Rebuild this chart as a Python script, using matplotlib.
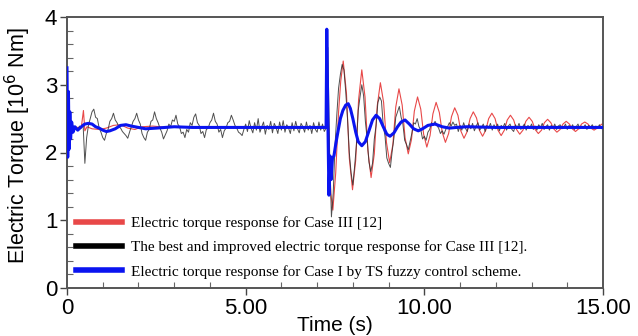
import numpy as np
import matplotlib
matplotlib.use("Agg")
import matplotlib.pyplot as plt
from matplotlib.lines import Line2D

# ---------------- data ----------------
red_t = [0.00, 0.40, 0.46, 0.50, 0.56, 0.70, 0.90, 1.10, 1.30, 1.50, 1.70, 1.90, 2.10, 2.40, 2.80, 3.50, 7.26,
         7.28, 7.32, 7.38, 7.44, 7.52, 7.60, 7.66,
         7.73, 7.82, 7.90, 7.99, 8.08, 8.16, 8.25, 8.34, 8.42, 8.51, 8.60, 8.68,
         8.77, 8.86, 8.94, 9.03, 9.12, 9.20, 9.29, 9.38, 9.46, 9.55, 9.64, 9.72,
         9.81, 9.90, 9.98, 10.07, 10.16, 10.24, 10.33, 10.42, 10.50, 10.59, 10.68, 10.76,
         10.85, 10.94, 11.02, 11.11, 11.20, 11.28, 11.37, 11.46, 11.54, 11.63, 11.72, 11.80,
         11.89, 11.98, 12.06, 12.15, 12.24, 12.32, 12.41, 12.50, 12.58, 12.67, 12.76, 12.84,
         12.93, 13.02, 13.10, 13.19, 13.28, 13.36, 13.45, 13.54, 13.62, 13.71, 13.80, 13.88,
         13.97, 14.06, 14.14, 14.23, 14.32, 14.40, 14.49, 14.58, 14.66, 14.75, 14.84, 14.92, 15.00]
red_v = [2.37, 2.37, 2.62, 2.32, 2.38, 2.35, 2.34, 2.36, 2.40, 2.41, 2.36, 2.34, 2.38, 2.39, 2.37, 2.38, 2.37,
         3.62, 2.40, 1.40, 1.15, 1.70, 2.60, 3.05,
         3.35, 2.88, 1.92, 1.45, 1.89, 2.78, 3.22, 2.82, 2.03, 1.63, 1.98, 2.68,
         3.03, 2.74, 2.15, 1.85, 2.12, 2.67, 2.94, 2.70, 2.22, 1.98, 2.19, 2.61,
         2.82, 2.64, 2.27, 2.08, 2.25, 2.57, 2.74, 2.59, 2.30, 2.15, 2.28, 2.53,
         2.66, 2.55, 2.32, 2.21, 2.31, 2.50, 2.60, 2.51, 2.33, 2.24, 2.33, 2.50,
         2.58, 2.50, 2.33, 2.25, 2.33, 2.48, 2.55, 2.48, 2.34, 2.27, 2.33, 2.46,
         2.52, 2.46, 2.34, 2.28, 2.33, 2.44, 2.49, 2.44, 2.35, 2.30, 2.34, 2.42,
         2.46, 2.42, 2.35, 2.31, 2.35, 2.42, 2.45, 2.42, 2.36, 2.33, 2.36, 2.40, 2.43]

# black: sampled every 0.05 s from 0 to 15 s (one row = 1 s)
black_v = [
    2.37, 2.40, 2.34, 2.39, 2.35, 2.38, 2.34, 2.39, 2.36, 2.42, 1.84, 2.22, 2.40, 2.50, 2.60, 2.64, 2.52, 2.50, 2.36, 2.30,
    2.22, 2.18, 2.28, 2.34, 2.46, 2.50, 2.58, 2.48, 2.44, 2.38, 2.36, 2.31, 2.28, 2.25, 2.21, 2.30, 2.38, 2.46, 2.50, 2.58,
    2.48, 2.42, 2.28, 2.22, 2.18, 2.30, 2.34, 2.46, 2.48, 2.60, 2.50, 2.44, 2.36, 2.30, 2.20, 2.26, 2.32, 2.42, 2.38, 2.48,
    2.46, 2.55, 2.42, 2.38, 2.28, 2.30, 2.22, 2.34, 2.30, 2.44, 2.40, 2.52, 2.57, 2.44, 2.40, 2.28, 2.31, 2.22, 2.34, 2.36,
    2.44, 2.48, 2.58, 2.46, 2.42, 2.30, 2.34, 2.22, 2.32, 2.36, 2.44, 2.46, 2.55, 2.48, 2.40, 2.36, 2.30, 2.28, 2.25, 2.34,
    2.42, 2.31, 2.47, 2.36, 2.29, 2.44, 2.33, 2.50, 2.30, 2.38, 2.45, 2.27, 2.40, 2.34, 2.46, 2.29, 2.43, 2.37, 2.28, 2.45,
    2.33, 2.47, 2.30, 2.41, 2.36, 2.28, 2.44, 2.32, 2.46, 2.35, 2.29, 2.43, 2.38, 2.30, 2.45, 2.33, 2.40, 2.28, 2.44, 2.34,
    2.30, 2.45, 2.33, 2.42, 2.31, 2.36, 3.55, 2.00, 1.05, 1.40, 2.10, 2.55, 2.95, 3.15, 3.30, 3.22, 2.90, 2.50, 2.00, 1.70,
    1.52, 1.80, 2.12, 2.62, 2.82, 3.00, 2.84, 2.46, 2.20, 1.86, 1.72, 1.84, 2.20, 2.40, 2.74, 2.82, 2.76, 2.40, 2.24, 1.92,
    1.84, 1.78, 2.02, 2.22, 2.52, 2.60, 2.68, 2.52, 2.42, 2.18, 2.12, 2.04, 2.16, 2.28, 2.44, 2.42, 2.50, 2.38, 2.34, 2.20,
    2.24, 2.18, 2.30, 2.34, 2.44, 2.40, 2.46, 2.40, 2.36, 2.28, 2.32, 2.27, 2.34, 2.38, 2.44, 2.39, 2.45, 2.40, 2.42, 2.31,
    2.40, 2.33, 2.44, 2.36, 2.31, 2.42, 2.35, 2.43, 2.32, 2.39, 2.44, 2.33, 2.37, 2.42, 2.31, 2.40, 2.36, 2.43, 2.33, 2.41,
    2.35, 2.42, 2.32, 2.40, 2.37, 2.43, 2.33, 2.39, 2.42, 2.34, 2.31, 2.41, 2.36, 2.43, 2.34, 2.38, 2.42, 2.33, 2.40, 2.36,
    2.42, 2.34, 2.39, 2.33, 2.41, 2.37, 2.43, 2.34, 2.38, 2.41, 2.33, 2.40, 2.36, 2.42, 2.34, 2.39, 2.41, 2.35, 2.37, 2.42,
    2.34, 2.40, 2.36, 2.41, 2.34, 2.38, 2.42, 2.35, 2.39, 2.36, 2.41, 2.34, 2.40, 2.37, 2.41, 2.35, 2.39, 2.36, 2.41, 2.35,
    2.38]

blue_t = [0.00, 0.02, 0.04, 0.06, 0.08, 0.10, 0.13, 0.17, 0.22, 0.30, 0.40, 0.50, 0.60, 0.70, 0.80, 0.90, 1.00,
          1.10, 1.20, 1.35, 1.50, 1.65, 1.80, 2.00, 2.20, 2.50, 3.00, 3.50, 4.00, 5.00, 6.00, 7.25,
          7.27, 7.30, 7.33, 7.36, 7.39, 7.43, 7.47, 7.52, 7.58, 7.65, 7.72, 7.80, 7.87, 7.93, 8.00,
          8.08, 8.15, 8.25, 8.35, 8.45, 8.55, 8.65, 8.75, 8.85, 8.95, 9.04, 9.15, 9.25, 9.35, 9.46,
          9.58, 9.70, 9.83, 9.95, 10.10, 10.30, 10.50, 10.70, 10.90, 11.20, 12.00, 13.00, 14.00, 15.00]
blue_v = [3.25, 1.93, 2.90, 2.05, 2.60, 2.20, 2.45, 2.30, 2.38, 2.33, 2.38, 2.42, 2.43, 2.42, 2.38, 2.36, 2.33,
          2.31, 2.32, 2.35, 2.40, 2.41, 2.39, 2.37, 2.35, 2.36, 2.38, 2.37, 2.37, 2.37, 2.37, 2.37,
          3.82, 2.50, 1.37, 1.95, 1.60, 1.92, 1.95, 2.12, 2.30, 2.50, 2.62, 2.70, 2.72, 2.65, 2.50,
          2.30, 2.16, 2.10, 2.16, 2.32, 2.48, 2.55, 2.50, 2.38, 2.27, 2.24, 2.29, 2.38, 2.45, 2.48,
          2.42, 2.35, 2.32, 2.35, 2.40, 2.42, 2.38, 2.36, 2.37, 2.38, 2.37, 2.37, 2.37, 2.37]

legend_labels = ["Electric torque response for Case III [12]",
                 "The best and improved electric torque response for Case III [12].",
                 "Electric torque response for Case I by TS fuzzy control scheme."]
x_ticks = [0, 5, 10, 15]
x_ticklabels = ["0", "5.00", "10.00", "15.00"]
y_ticks = [0, 1, 2, 3, 4]
y_ticklabels = ["0", "1", "2", "3", "4"]

# ---------------- figure ----------------
plt.rcParams['font.family'] = ['Liberation Sans', 'DejaVu Sans']
fig = plt.figure(figsize=(6.38, 3.36), dpi=100)
ax = fig.add_axes([67/638, 48/336, 536/638, 271/336])

red_c = '#e84848'
blue_c = '#0a14f0'
black_t = np.linspace(0, 15, len(black_v))

ax.plot(red_t, red_v, color=red_c, lw=0.8, zorder=2)
ax.plot(black_t, black_v, color='#303030', lw=0.7, alpha=0.85, zorder=3)
ax.plot(blue_t, blue_v, color=blue_c, lw=2.2, zorder=4)

ax.set_xlim(0, 15)
ax.set_ylim(0, 4)
ax.set_xticks(x_ticks)
ax.set_xticklabels(x_ticklabels)
ax.set_yticks(y_ticks)
ax.set_yticklabels(y_ticklabels)
ax.set_xticks(np.arange(0, 15.01, 1.0), minor=True)
ax.set_yticks(np.arange(0, 4.01, 0.2), minor=True)
ax.tick_params(which='major', direction='out', length=5, width=1, color='#444444',
               labelsize=16, pad=2)
ax.tick_params(which='minor', direction='in', length=4, width=0.8, color='#666666')

for s in ax.spines.values():
    s.set_color('#555555')
    s.set_linewidth(1.4)

ax.set_xlabel("Time (s)", fontsize=15, labelpad=-2)
ax.set_ylabel("Electric Torque [10$^{6}$ Nm]", fontsize=15.5)
ax.yaxis.set_label_coords(-0.063, 0.525)

handles = [Line2D([], [], color=red_c, lw=4),
           Line2D([], [], color='black', lw=4),
           Line2D([], [], color=blue_c, lw=4)]
ax.legend(handles, legend_labels, loc='lower left', bbox_to_anchor=(0.0, 0.0),
          frameon=False, prop={'family': 'Liberation Serif', 'size': 11},
          handlelength=3.0, handletextpad=0.6, labelspacing=0.7,
          borderaxespad=0.3, borderpad=0.3)

fig.savefig("out.png", dpi=100)
